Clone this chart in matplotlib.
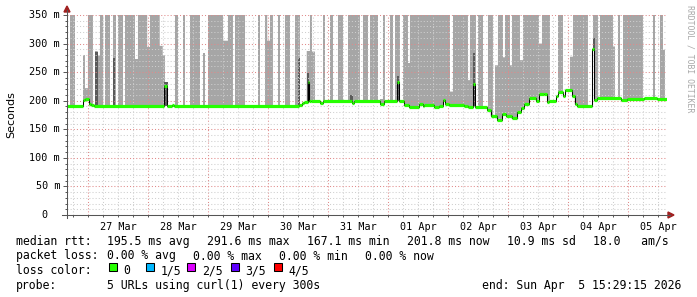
import datetime as dt
import numpy as np
import matplotlib
matplotlib.use("Agg")
import matplotlib.pyplot as plt
import matplotlib.dates as mdates
from matplotlib.patches import Rectangle, Polygon
from matplotlib.lines import Line2D
from matplotlib.ticker import FuncFormatter, MultipleLocator

plt.rcParams['font.family'] = ['DejaVu Sans Mono']

# ---------------- data ----------------
END = dt.datetime(2026, 4, 5, 15, 29, 15)
START = END - dt.timedelta(days=10)
SPAN_H = 240.0

# smoke (spread of pings): start hour, end hour (since START), top value (ms)
smoke_start = [1.2, 6.4, 7.2, 8.4, 11.2, 12.3, 13.2, 15.2, 18.4, 20.4, 23.2, 27.2, 28.4, 32.1,
               33.2, 37.1, 38.3, 43.2, 46.4, 49.2, 54.4, 56.4, 62.4, 64.4, 67.2, 76.4, 79.2,
               80.1, 81.2, 84.4, 87.2, 91.2, 95.9, 97.2, 98.0, 102.4, 105.2, 108.4, 112.4,
               118.4, 121.2, 125.2, 126.4, 129.2, 131.2, 134.4, 136.4, 137.2, 153.2, 154.4,
               160.4, 161.2, 164.4, 168.4, 171.2, 172.4, 174.4, 175.2, 177.2, 178.0, 181.2,
               182.4, 188.8, 190.0, 196.4, 201.2, 202.4, 210.4, 213.2, 218.4, 220.4, 222.4,
               234.4, 237.2, 238.4]
smoke_end = [3.2, 7.2, 8.4, 10.4, 12.3, 13.2, 14.5, 17.2, 19.6, 22.5, 27.2, 28.4, 32.1, 33.2,
             37.1, 38.3, 39.2, 44.4, 47.2, 53.2, 55.2, 62.4, 64.4, 66.4, 71.2, 77.2, 80.1,
             81.2, 82.4, 85.2, 89.2, 93.2, 97.2, 98.0, 99.2, 103.2, 106.4, 110.4, 117.2,
             120.4, 124.4, 126.4, 127.2, 130.4, 133.2, 136.4, 137.2, 153.2, 154.4, 160.4,
             161.2, 163.6, 166.4, 170.4, 172.4, 174.4, 175.2, 177.2, 178.0, 181.2, 182.4,
             188.8, 190.0, 193.2, 198.4, 202.4, 208.4, 212.4, 218.4, 219.2, 221.2, 230.4,
             235.2, 238.4, 239.2]
smoke_top = [350, 280, 222, 350, 287, 279, 350, 350, 350, 350, 350, 273, 350, 294,
             350, 296, 280, 350, 350, 350, 284, 350, 305, 350, 350, 350, 350,
             305, 350, 350, 350, 350, 287, 350, 286, 350, 350, 350, 350,
             350, 350, 203, 350, 350, 350, 350, 266, 350, 216, 350,
             236, 350, 350, 350, 262, 350, 276, 350, 262, 350, 271,
             350, 300, 350, 350, 277, 350, 350, 350, 295, 350, 350,
             350, 350, 289]

# dense smoke (dark)
dark_start = [11.2, 18.4, 38.8, 92.4, 96.0, 113.2, 132.0, 162.3, 210.4]
dark_end = [12.3, 19.2, 40.4, 93.2, 96.9, 114.4, 132.8, 163.2, 211.2]
dark_top = [285, 275, 232, 275, 249, 210, 243, 283, 309]

# median rtt (ms), step function: change hour, value
med_t = [0.0, 6.4, 7.2, 8.8, 9.5, 10.8, 38.8, 40.1, 42.1, 42.8, 92.8, 94.1, 94.8, 96.4,
         96.9, 97.6, 101.2, 102.4, 114.0, 114.8, 125.2, 126.8, 132.0, 132.8, 134.8,
         136.8, 140.8, 142.4, 142.8, 146.8, 148.8, 150.4, 151.2, 152.8, 158.8, 160.4,
         162.4, 163.2, 168.1, 169.5, 172.1, 174.1, 175.5, 178.1, 180.1, 181.5, 182.8,
         184.8, 187.5, 188.8, 190.8, 192.1, 192.8, 195.5, 196.4, 198.4, 199.1, 202.1,
         203.1, 204.1, 210.1, 210.8, 212.1, 221.5, 224.1, 230.8, 236.1]
med_v = [190, 201, 203, 194, 192, 190, 226, 190, 193, 190, 192.5, 196.5, 197, 233,
         199.5, 200, 196.5, 200, 196.5, 200, 194, 199, 232, 199, 192,
         189.6, 195, 191, 192.5, 189.6, 190.8, 201, 195, 192.7, 191, 189.6,
         229, 189.6, 183.8, 173, 167, 177, 173, 169, 181, 187, 195,
         205.6, 200, 212.5, 211.8, 198.5, 200, 208, 215.6, 208, 218.9, 208,
         193.6, 190.8, 290.5, 201, 204, 201, 202.4, 204, 202.4]

ytick_vals = [0, 50, 100, 150, 200, 250, 300, 350]
ytick_labels = ["0", "50 m", "100 m", "150 m", "200 m", "250 m", "300 m", "350 m"]

legend_rtt = ["195.5 ms avg", "291.6 ms max", "167.1 ms min", "201.8 ms now",
              "10.9 ms sd", "18.0   am/s"]
legend_loss = ["0.00 % avg", "0.00 % max", "0.00 % min", "0.00 % now"]
loss_labels = ["0", "1/5", "2/5", "3/5", "4/5"]
loss_colors = ["#26ff00", "#00b8ff", "#dd00ff", "#5e00ff", "#ff0000"]
probe_text = "5 URLs using curl(1) every 300s"
end_text = "end: Sun Apr  5 15:29:15 2026"

# ---------------- figure ----------------
W, H = 697, 297
fig = plt.figure(figsize=(W / 100, H / 100), dpi=100)
fig.patch.set_facecolor("white")
ax = fig.add_axes([67 / W, 82 / H, 600 / W, 200 / H])
ax.set_facecolor("white")

def fx(x):
    return x / W

def fy(y):
    return 1 - y / H

x0 = mdates.date2num(START)
hours = np.arange(0, SPAN_H, 0.02)
xs = x0 + hours / 24.0

med_t_arr = np.array(med_t)
med_v_arr = np.array(med_v, dtype=float)
idx = np.searchsorted(med_t_arr, hours, side="right") - 1
med_line = med_v_arr[idx]

top = np.full_like(hours, np.nan)
for s, e, v in zip(smoke_start, smoke_end, smoke_top):
    top[(hours >= s) & (hours < e)] = v
mask = ~np.isnan(top)
ax.fill_between(xs, med_line, np.where(mask, top, med_line), where=mask,
                color="#a6a6a6", linewidth=0, zorder=1)

dtop = np.full_like(hours, np.nan)
dbase = np.full_like(hours, np.nan)
for s, e, v in zip(dark_start, dark_end, dark_top):
    sel = (hours >= s) & (hours < e)
    b = med_v_arr[np.searchsorted(med_t_arr, s - 0.3, side="right") - 1]
    dtop[sel] = v
    dbase[sel] = b
dmask = ~np.isnan(dtop)
ax.fill_between(xs, np.where(dmask, dbase, 0), np.where(dmask, dtop, 0), where=dmask,
                color="#5a5a5a", linewidth=0, zorder=1.2)

edges = x0 + np.append(med_t_arr, SPAN_H) / 24.0
ax.stairs(med_v_arr, edges, baseline=None, color="black", linewidth=0.75, zorder=3)
ax.hlines(med_v_arr, edges[:-1], edges[1:], colors="#26ff00", linewidth=2.3, zorder=4)

ax.set_xlim(x0, x0 + SPAN_H / 24.0)
ax.set_ylim(0, 350)

# grid
ax.xaxis.set_major_locator(mdates.DayLocator())
ax.xaxis.set_minor_locator(mdates.HourLocator(byhour=[6, 12, 18]))
ax.xaxis.set_major_formatter(FuncFormatter(lambda v, p: ""))

def minor_fmt(v, p):
    d = mdates.num2date(v)
    return d.strftime("%d %b") if d.hour == 12 else ""

ax.xaxis.set_minor_formatter(FuncFormatter(minor_fmt))
ax.set_yticks(ytick_vals)
ax.yaxis.set_minor_locator(MultipleLocator(10))
ax.set_yticklabels([])

dots = (0, (1, 2))
ax.grid(which="minor", color="#cfcfcf", linestyle=dots, linewidth=0.75)
ax.grid(which="major", color="#e08a8a", linestyle=dots, linewidth=0.75)

ax.tick_params(axis="x", which="both", direction="out", length=1.6, width=0.7,
               color="#555555", labelsize=7.3, pad=3.2)
ax.tick_params(axis="y", which="major", direction="out", length=3, width=0.7,
               color="#555555")
ax.tick_params(axis="y", which="minor", direction="out", length=1.5, width=0.7,
               color="#555555")
for sp in ax.spines.values():
    sp.set_visible(False)

for v, lab in zip(ytick_vals, ytick_labels):
    off = -19 if lab == "0" else -7
    ax.annotate(lab, xy=(0, v), xycoords=("axes fraction", "data"),
                xytext=(off, 0), textcoords="offset pixels",
                ha="right", va="center", fontsize=7.3, color="black")

# axis lines and arrows
axis_col = "#555555"
fig.add_artist(Line2D([fx(67), fx(67)], [fy(218), fy(10)], color=axis_col, lw=0.75,
                      transform=fig.transFigure))
fig.add_artist(Line2D([fx(62), fx(670)], [fy(215), fy(215)], color=axis_col, lw=0.75,
                      transform=fig.transFigure))
arrow_col = "#a02020"
fig.add_artist(Polygon([[fx(67), fy(6)], [fx(64), fy(12)], [fx(70), fy(12)]],
                       closed=True, color=arrow_col, transform=fig.transFigure))
fig.add_artist(Polygon([[fx(674), fy(215)], [fx(668), fy(212)], [fx(668), fy(218)]],
                       closed=True, color=arrow_col, transform=fig.transFigure))

# labels
fig.text(fx(11), fy(115), "Seconds", rotation=90, ha="center", va="center",
         fontsize=8, family="DejaVu Sans", color="black")
fig.text(fx(690), fy(59), "RRDTOOL / TOBI OETIKER", rotation=270, ha="center",
         va="center", fontsize=5.9, color="#a8a8a8")

LFS = 8.3
base = [245, 259.5, 274, 288.5]
fig.text(fx(16), fy(base[0]), "median rtt:", fontsize=LFS, va="baseline")
for x, s in zip([107, 206.9, 306.8, 406.7, 506.6, 592.6], legend_rtt):
    fig.text(fx(x), fy(base[0]), s, fontsize=LFS, va="baseline")
fig.text(fx(16), fy(base[1]), "packet loss:", fontsize=LFS, va="baseline")
for x, s in zip([107, 193, 279, 365], legend_loss):
    fig.text(fx(x), fy(base[1]), s, fontsize=LFS, va="baseline")
fig.text(fx(16), fy(base[2]), "loss color:", fontsize=LFS, va="baseline")
for bx, lx, lab, col in zip([109, 145.7, 187, 230.7, 274], [122, 159.5, 201, 244, 287.5],
                            loss_labels, loss_colors):
    fig.add_artist(Rectangle((fx(bx), fy(271)), 8 / W, 8 / H, facecolor=col,
                             edgecolor="black", lw=0.75, transform=fig.transFigure))
    fig.text(fx(lx + 1), fy(base[2]), lab, fontsize=LFS, va="baseline")
fig.text(fx(16), fy(base[3]), "probe:", fontsize=LFS, va="baseline")
fig.text(fx(107), fy(base[3]), probe_text, fontsize=LFS, va="baseline")
fig.text(fx(681), fy(base[3]), end_text, fontsize=LFS, va="baseline", ha="right")

fig.savefig("out.png", dpi=100, facecolor="white")
